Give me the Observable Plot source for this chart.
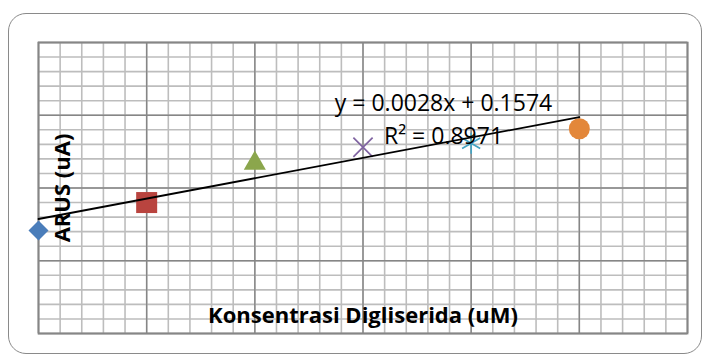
<!DOCTYPE html>
<html>
<head>
<meta charset="utf-8">
<script src="https://cdn.jsdelivr.net/npm/d3@7"></script>
<script src="https://cdn.jsdelivr.net/npm/@observablehq/plot@0.6"></script>
<style>
  html, body { margin: 0; padding: 0; background: #fff; }
  #wrap { position: relative; width: 703px; height: 357px; overflow: hidden; }
  #frame { position: absolute; left: 8px; top: 13px; width: 694px; height: 341px;
           border: 1.4px solid #8a8a8a; border-radius: 18px; box-sizing: border-box; }
  #chart { position: absolute; left: 0; top: 0; }
</style>
</head>
<body>
<div id="wrap"><div id="frame"></div><div id="chart"></div></div>
<script>
// Data
const xValues = [0, 10, 20, 30, 40, 50];
const yValues = [0.1415, 0.180, 0.234, 0.256, 0.2615, 0.2815];
// Axis ranges (Excel-style, labels hidden)
const xDomain = [0, 60];
const yDomain = [0, 0.4];
const xMajorStep = 10, xMinorStep = 2;
const yMajorStep = 0.1, yMinorStep = 0.02;
// Trendline from the reference equation
const trendSlope = 0.0028;
const trendIntercept = 0.1574;
const equationLabel = "y = 0.0028x + 0.1574";
const r2Label = "R² = 0.8971";
const xAxisLabel = "Konsentrasi Digliserida (uM)";
const yAxisLabel = "ARUS (uA)";

// Marker styles (one per series)
const markerSymbols = ["diamond2", "square", "triangle", "times", "asterisk", "circle"];
const markerColors = ["#4a7dba", "#b9443f", "#8ba64c", "#7f63a1", "#44a3c2", "#e3873a"];
const markerSizes = [9.0, 11.85, 8.2, 8.8, 9.9, 10.5];
const strokeMarkers = new Set(["times", "asterisk"]);

const xMinor = d3.range(xDomain[0], xDomain[1] + 1e-9, xMinorStep);
const xMajor = d3.range(xDomain[0], xDomain[1] + 1e-9, xMajorStep);
const yMinor = d3.range(yDomain[0], yDomain[1] + 1e-9, yMinorStep);
const yMajor = d3.range(yDomain[0], yDomain[1] + 1e-9, yMajorStep);

const idx = d3.range(xValues.length);
const markerMarks = idx.map(i => {
  const sym = markerSymbols[i];
  const isStroke = strokeMarkers.has(sym);
  return Plot.dot([i], {
    x: j => xValues[j], y: j => yValues[j],
    symbol: sym, r: markerSizes[i],
    fill: isStroke ? "none" : markerColors[i],
    stroke: isStroke ? markerColors[i] : "none",
    strokeWidth: isStroke ? 1.7 : 0
  });
});

const trendX = [xValues[0], xValues[xValues.length - 1]];

const chart = Plot.plot({
  width: 703, height: 357,
  marginLeft: 38, marginRight: 16, marginTop: 42, marginBottom: 24,
  x: { domain: xDomain, axis: null },
  y: { domain: yDomain, axis: null },
  style: { background: "transparent", fontFamily: "'Open Sans', sans-serif" },
  marks: [
    Plot.ruleX(xMinor, { stroke: "#bdbdbd", strokeWidth: 1.6 }),
    Plot.ruleY(yMinor, { stroke: "#bdbdbd", strokeWidth: 1.6 }),
    Plot.ruleX(xMajor, { stroke: "#868686", strokeWidth: 1.4 }),
    Plot.ruleY(yMajor, { stroke: "#868686", strokeWidth: 1.4 }),
    Plot.frame({ stroke: "#868686", strokeWidth: 1.8 }),
    ...markerMarks,
    Plot.line(trendX, { x: d => d, y: d => trendSlope * d + trendIntercept, stroke: "#000", strokeWidth: 1.8 }),
    Plot.text([equationLabel], { frameAnchor: "top-left", dx: 405, dy: 61, text: d => d,
      fontSize: 23, fill: "#000", textAnchor: "middle", lineAnchor: "middle" }),
    Plot.text([r2Label], { frameAnchor: "top-left", dx: 405, dy: 94, text: d => d,
      fontSize: 23, fill: "#000", textAnchor: "middle", lineAnchor: "middle" }),
    Plot.text([xAxisLabel], { frameAnchor: "bottom", dy: -18, text: d => d,
      fontSize: 22, fontWeight: "bold", fill: "#000", textAnchor: "middle", lineAnchor: "middle" }),
    Plot.text([yAxisLabel], { frameAnchor: "left", dx: 24, rotate: -90, text: d => d,
      fontSize: 22, fontWeight: "bold", fill: "#000", textAnchor: "middle", lineAnchor: "middle" })
  ]
});
document.getElementById("chart").appendChild(chart);
</script>
</body>
</html>
